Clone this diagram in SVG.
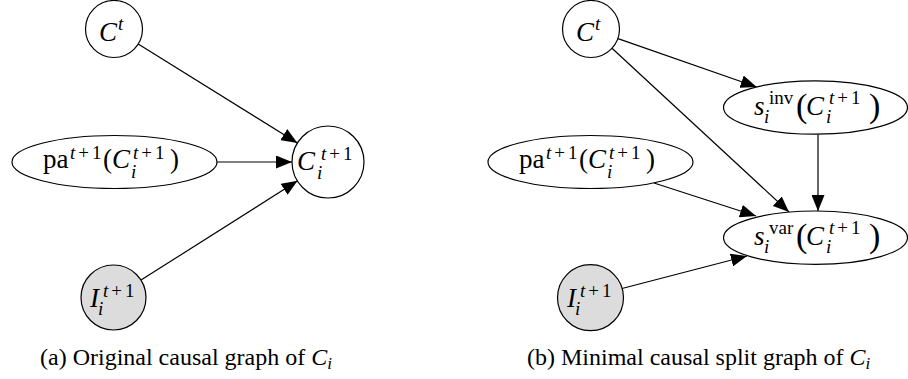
<svg xmlns="http://www.w3.org/2000/svg" width="908" height="379" viewBox="0 0 908 379">
<defs>
<style>
.n { fill: #ffffff; stroke: #000000; stroke-width: 1.2; }
.g { fill: #dcdcdc; stroke: #000000; stroke-width: 1.2; }
.e { fill: none; stroke: #000000; stroke-width: 1.2; marker-end: url(#ah); }
.m { font-family: 'Liberation Serif', 'DejaVu Serif', serif; font-size: 27px; font-style: italic; fill: #000; }
.r { font-style: normal; }
.s { font-size: 19px; }
.p { font-size: 34px; font-style: normal; }
.cap { font-family: 'Liberation Serif', 'DejaVu Serif', serif; font-size: 24px; fill: #000; }
</style>
<marker id="ah" viewBox="0 0 16 13" refX="16" refY="6.5" markerWidth="16" markerHeight="13" markerUnits="userSpaceOnUse" orient="auto">
<path d="M0,0 L16,6.5 L0,13 Z" fill="#000"/>
</marker>
</defs>

<g id="connectors">
<line class="e" x1="138.2" y1="44" x2="297.4" y2="143"/>
<line class="e" x1="216.5" y1="162" x2="292" y2="162"/>
<line class="e" x1="141" y1="280.1" x2="297.6" y2="180.8"/>
<line class="e" x1="618" y1="38.6" x2="756.7" y2="87"/>
<line class="e" x1="612" y1="48.3" x2="789" y2="212"/>
<line class="e" x1="818" y1="134.2" x2="818" y2="211"/>
<line class="e" x1="654" y1="183" x2="756" y2="216"/>
<line class="e" x1="622" y1="288.5" x2="747" y2="256"/>
</g>

<g id="a_Ct">
<circle class="n" cx="114" cy="29" r="28.5"/>
<text class="m"><tspan x="99" y="41">C</tspan><tspan class="s" x="118" y="30">t</tspan></text>
</g>

<g id="a_Ci">
<circle class="n" cx="328" cy="162" r="36"/>
<text class="m"><tspan x="297" y="170">C</tspan><tspan class="s" x="321" y="160">t</tspan><tspan class="s r" dx="3">+</tspan><tspan class="s r" dx="3">1</tspan><tspan class="s" x="317" y="179">i</tspan></text>
</g>

<g id="a_pa">
<ellipse class="n" cx="114.5" cy="162" rx="102.5" ry="26.5"/>
<text class="m"><tspan class="r" x="43" y="168">pa</tspan><tspan class="s" x="70" y="159">t</tspan><tspan class="s r" dx="3">+</tspan><tspan class="s r" dx="3">1</tspan><tspan class="r" x="103" y="168">(</tspan><tspan x="112" y="168">C</tspan><tspan class="s" x="133" y="159">t</tspan><tspan class="s r" dx="3">+</tspan><tspan class="s r" dx="3">1</tspan><tspan class="s" x="131" y="178">i</tspan><tspan class="r" x="170" y="168">)</tspan></text>
</g>

<g id="a_I">
<circle class="g" cx="113.5" cy="297.5" r="32.5"/>
<text class="m"><tspan x="90" y="307">I</tspan><tspan class="s" x="103" y="297">t</tspan><tspan class="s r" dx="3">+</tspan><tspan class="s r" dx="3">1</tspan><tspan class="s" x="98" y="315">i</tspan></text>
</g>

<g id="b_Ct">
<circle class="n" cx="591" cy="29" r="28.5"/>
<text class="m"><tspan x="576" y="41">C</tspan><tspan class="s" x="595" y="30">t</tspan></text>
</g>

<g id="b_sinv">
<ellipse class="n" cx="815.5" cy="107.5" rx="92" ry="26.7"/>
<text class="m"><tspan x="754" y="115">s</tspan><tspan class="s r" x="769" y="104">inv</tspan><tspan class="s" x="764" y="123">i</tspan><tspan class="p" x="796" y="117">(</tspan><tspan x="806" y="115">C</tspan><tspan class="s" x="829" y="104">t</tspan><tspan class="s r" dx="3">+</tspan><tspan class="s r" dx="3">1</tspan><tspan class="s" x="826" y="123">i</tspan><tspan class="p" x="869" y="117">)</tspan></text>
</g>

<g id="b_pa">
<ellipse class="n" cx="590.5" cy="162" rx="102.5" ry="26.5"/>
<text class="m"><tspan class="r" x="519" y="168">pa</tspan><tspan class="s" x="546" y="159">t</tspan><tspan class="s r" dx="3">+</tspan><tspan class="s r" dx="3">1</tspan><tspan class="r" x="579" y="168">(</tspan><tspan x="588" y="168">C</tspan><tspan class="s" x="609" y="159">t</tspan><tspan class="s r" dx="3">+</tspan><tspan class="s r" dx="3">1</tspan><tspan class="s" x="607" y="178">i</tspan><tspan class="r" x="646" y="168">)</tspan></text>
</g>

<g id="b_svar">
<ellipse class="n" cx="815.5" cy="237.7" rx="92" ry="26.7"/>
<text class="m"><tspan x="754" y="245">s</tspan><tspan class="s r" x="769" y="234">var</tspan><tspan class="s" x="764" y="253">i</tspan><tspan class="p" x="796" y="247">(</tspan><tspan x="806" y="245">C</tspan><tspan class="s" x="829" y="234">t</tspan><tspan class="s r" dx="3">+</tspan><tspan class="s r" dx="3">1</tspan><tspan class="s" x="826" y="253">i</tspan><tspan class="p" x="869" y="247">)</tspan></text>
</g>

<g id="b_I">
<circle class="g" cx="590.5" cy="297.7" r="33"/>
<text class="m"><tspan x="567" y="307">I</tspan><tspan class="s" x="580" y="297">t</tspan><tspan class="s r" dx="3">+</tspan><tspan class="s r" dx="3">1</tspan><tspan class="s" x="575" y="315">i</tspan></text>
</g>

<g id="captions">
<text class="cap" x="40" y="365">(a) Original causal graph of <tspan font-style="italic">C</tspan><tspan font-style="italic" font-size="17" dy="4">i</tspan></text>
<text class="cap" x="527" y="365">(b) Minimal causal split graph of <tspan font-style="italic">C</tspan><tspan font-style="italic" font-size="17" dy="4">i</tspan></text>
</g>
</svg>
